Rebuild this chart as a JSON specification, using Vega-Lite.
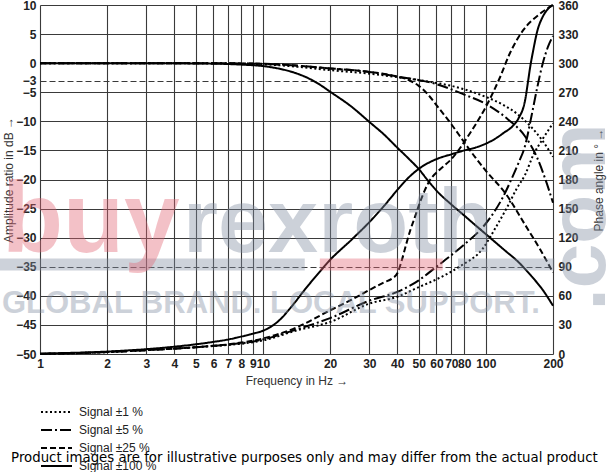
{
  "$schema": "https://vega.github.io/schema/vega-lite/v6.json",
  "width": 513,
  "height": 349,
  "autosize": {"type": "none"},
  "padding": {"left": 40, "top": 5, "right": 54, "bottom": 118},
  "background": "white",
  "config": {"view": {"stroke": null}},
  "datasets": {
    "amp": [
      {"s": "Signal ±1 %", "f": 1, "v": 0}, {"s": "Signal ±1 %", "f": 5, "v": 0}, {"s": "Signal ±1 %", "f": 10, "v": -0.2}, {"s": "Signal ±1 %", "f": 15, "v": -0.7}, {"s": "Signal ±1 %", "f": 20, "v": -1.2}, {"s": "Signal ±1 %", "f": 30, "v": -1.8}, {"s": "Signal ±1 %", "f": 40, "v": -2.4}, {"s": "Signal ±1 %", "f": 50, "v": -2.9}, {"s": "Signal ±1 %", "f": 60, "v": -3.4}, {"s": "Signal ±1 %", "f": 70, "v": -3.9}, {"s": "Signal ±1 %", "f": 80, "v": -4.5}, {"s": "Signal ±1 %", "f": 100, "v": -5.8}, {"s": "Signal ±1 %", "f": 120, "v": -7.2}, {"s": "Signal ±1 %", "f": 140, "v": -8.9}, {"s": "Signal ±1 %", "f": 160, "v": -11.0}, {"s": "Signal ±1 %", "f": 180, "v": -13.4}, {"s": "Signal ±1 %", "f": 200, "v": -16.1},
      {"s": "Signal ±5 %", "f": 1, "v": 0}, {"s": "Signal ±5 %", "f": 5, "v": 0}, {"s": "Signal ±5 %", "f": 10, "v": -0.1}, {"s": "Signal ±5 %", "f": 15, "v": -0.5}, {"s": "Signal ±5 %", "f": 20, "v": -0.9}, {"s": "Signal ±5 %", "f": 30, "v": -1.5}, {"s": "Signal ±5 %", "f": 40, "v": -2.3}, {"s": "Signal ±5 %", "f": 50, "v": -2.9}, {"s": "Signal ±5 %", "f": 60, "v": -3.6}, {"s": "Signal ±5 %", "f": 70, "v": -4.5}, {"s": "Signal ±5 %", "f": 80, "v": -5.4}, {"s": "Signal ±5 %", "f": 100, "v": -7.0}, {"s": "Signal ±5 %", "f": 125, "v": -9.6}, {"s": "Signal ±5 %", "f": 150, "v": -12.6}, {"s": "Signal ±5 %", "f": 170, "v": -16.3}, {"s": "Signal ±5 %", "f": 185, "v": -20.0}, {"s": "Signal ±5 %", "f": 200, "v": -24.0},
      {"s": "Signal ±25 %", "f": 1, "v": 0}, {"s": "Signal ±25 %", "f": 5, "v": 0}, {"s": "Signal ±25 %", "f": 10, "v": -0.1}, {"s": "Signal ±25 %", "f": 15, "v": -0.5}, {"s": "Signal ±25 %", "f": 20, "v": -0.9}, {"s": "Signal ±25 %", "f": 30, "v": -1.5}, {"s": "Signal ±25 %", "f": 40, "v": -2.3}, {"s": "Signal ±25 %", "f": 45, "v": -2.9}, {"s": "Signal ±25 %", "f": 50, "v": -3.9}, {"s": "Signal ±25 %", "f": 55, "v": -5.4}, {"s": "Signal ±25 %", "f": 60, "v": -7.2}, {"s": "Signal ±25 %", "f": 70, "v": -10.5}, {"s": "Signal ±25 %", "f": 80, "v": -13.6}, {"s": "Signal ±25 %", "f": 90, "v": -16.3}, {"s": "Signal ±25 %", "f": 100, "v": -18.5}, {"s": "Signal ±25 %", "f": 123, "v": -22.5}, {"s": "Signal ±25 %", "f": 150, "v": -27.8}, {"s": "Signal ±25 %", "f": 175, "v": -32.0}, {"s": "Signal ±25 %", "f": 200, "v": -36.0},
      {"s": "Signal ±100 %", "f": 1, "v": 0}, {"s": "Signal ±100 %", "f": 3, "v": 0}, {"s": "Signal ±100 %", "f": 5, "v": -0.05}, {"s": "Signal ±100 %", "f": 7, "v": -0.15}, {"s": "Signal ±100 %", "f": 8, "v": -0.25}, {"s": "Signal ±100 %", "f": 10, "v": -0.5}, {"s": "Signal ±100 %", "f": 12, "v": -1.0}, {"s": "Signal ±100 %", "f": 14, "v": -1.7}, {"s": "Signal ±100 %", "f": 16, "v": -2.6}, {"s": "Signal ±100 %", "f": 18, "v": -3.7}, {"s": "Signal ±100 %", "f": 20, "v": -4.9}, {"s": "Signal ±100 %", "f": 25, "v": -7.5}, {"s": "Signal ±100 %", "f": 30, "v": -10.1}, {"s": "Signal ±100 %", "f": 35, "v": -12.3}, {"s": "Signal ±100 %", "f": 40, "v": -14.5}, {"s": "Signal ±100 %", "f": 45, "v": -16.4}, {"s": "Signal ±100 %", "f": 50, "v": -18.2}, {"s": "Signal ±100 %", "f": 55, "v": -20.2}, {"s": "Signal ±100 %", "f": 60, "v": -21.9}, {"s": "Signal ±100 %", "f": 70, "v": -24.3}, {"s": "Signal ±100 %", "f": 80, "v": -26.2}, {"s": "Signal ±100 %", "f": 90, "v": -27.9}, {"s": "Signal ±100 %", "f": 100, "v": -29.4}, {"s": "Signal ±100 %", "f": 120, "v": -32.0}, {"s": "Signal ±100 %", "f": 140, "v": -34.2}, {"s": "Signal ±100 %", "f": 160, "v": -36.6}, {"s": "Signal ±100 %", "f": 180, "v": -39.0}, {"s": "Signal ±100 %", "f": 200, "v": -41.7}
    ],
    "phase": [
      {"s": "Signal ±1 %", "f": 1, "p": 0}, {"s": "Signal ±1 %", "f": 2, "p": 2}, {"s": "Signal ±1 %", "f": 3, "p": 4}, {"s": "Signal ±1 %", "f": 5, "p": 7}, {"s": "Signal ±1 %", "f": 10, "p": 14}, {"s": "Signal ±1 %", "f": 14, "p": 24}, {"s": "Signal ±1 %", "f": 20, "p": 33}, {"s": "Signal ±1 %", "f": 30, "p": 52}, {"s": "Signal ±1 %", "f": 40, "p": 59}, {"s": "Signal ±1 %", "f": 50, "p": 69}, {"s": "Signal ±1 %", "f": 60, "p": 77}, {"s": "Signal ±1 %", "f": 76, "p": 90}, {"s": "Signal ±1 %", "f": 97, "p": 109}, {"s": "Signal ±1 %", "f": 111, "p": 131}, {"s": "Signal ±1 %", "f": 125, "p": 152}, {"s": "Signal ±1 %", "f": 137, "p": 170}, {"s": "Signal ±1 %", "f": 150, "p": 185}, {"s": "Signal ±1 %", "f": 163, "p": 205}, {"s": "Signal ±1 %", "f": 180, "p": 222}, {"s": "Signal ±1 %", "f": 200, "p": 238},
      {"s": "Signal ±5 %", "f": 1, "p": 0}, {"s": "Signal ±5 %", "f": 2, "p": 2}, {"s": "Signal ±5 %", "f": 3, "p": 4}, {"s": "Signal ±5 %", "f": 5, "p": 7}, {"s": "Signal ±5 %", "f": 10, "p": 15}, {"s": "Signal ±5 %", "f": 14, "p": 25}, {"s": "Signal ±5 %", "f": 20, "p": 37}, {"s": "Signal ±5 %", "f": 30, "p": 55}, {"s": "Signal ±5 %", "f": 40, "p": 64}, {"s": "Signal ±5 %", "f": 50, "p": 76}, {"s": "Signal ±5 %", "f": 60, "p": 90}, {"s": "Signal ±5 %", "f": 70, "p": 102}, {"s": "Signal ±5 %", "f": 80, "p": 113}, {"s": "Signal ±5 %", "f": 97, "p": 131}, {"s": "Signal ±5 %", "f": 110, "p": 148}, {"s": "Signal ±5 %", "f": 120, "p": 163}, {"s": "Signal ±5 %", "f": 130, "p": 180}, {"s": "Signal ±5 %", "f": 140, "p": 197}, {"s": "Signal ±5 %", "f": 150, "p": 215}, {"s": "Signal ±5 %", "f": 160, "p": 245}, {"s": "Signal ±5 %", "f": 170, "p": 275}, {"s": "Signal ±5 %", "f": 180, "p": 300}, {"s": "Signal ±5 %", "f": 190, "p": 317}, {"s": "Signal ±5 %", "f": 200, "p": 328},
      {"s": "Signal ±25 %", "f": 1, "p": 0}, {"s": "Signal ±25 %", "f": 2, "p": 2}, {"s": "Signal ±25 %", "f": 3, "p": 4}, {"s": "Signal ±25 %", "f": 5, "p": 7}, {"s": "Signal ±25 %", "f": 7, "p": 10}, {"s": "Signal ±25 %", "f": 10, "p": 16}, {"s": "Signal ±25 %", "f": 14, "p": 27}, {"s": "Signal ±25 %", "f": 20, "p": 45}, {"s": "Signal ±25 %", "f": 25, "p": 56}, {"s": "Signal ±25 %", "f": 30, "p": 66}, {"s": "Signal ±25 %", "f": 35, "p": 74}, {"s": "Signal ±25 %", "f": 38, "p": 78}, {"s": "Signal ±25 %", "f": 40, "p": 83}, {"s": "Signal ±25 %", "f": 42, "p": 97}, {"s": "Signal ±25 %", "f": 44, "p": 114}, {"s": "Signal ±25 %", "f": 46, "p": 129}, {"s": "Signal ±25 %", "f": 48, "p": 141}, {"s": "Signal ±25 %", "f": 50, "p": 153}, {"s": "Signal ±25 %", "f": 53, "p": 168}, {"s": "Signal ±25 %", "f": 56, "p": 179}, {"s": "Signal ±25 %", "f": 62, "p": 190}, {"s": "Signal ±25 %", "f": 70, "p": 201}, {"s": "Signal ±25 %", "f": 85, "p": 228}, {"s": "Signal ±25 %", "f": 100, "p": 255}, {"s": "Signal ±25 %", "f": 116, "p": 286}, {"s": "Signal ±25 %", "f": 128, "p": 310}, {"s": "Signal ±25 %", "f": 147, "p": 334}, {"s": "Signal ±25 %", "f": 175, "p": 351}, {"s": "Signal ±25 %", "f": 200, "p": 360},
      {"s": "Signal ±100 %", "f": 1, "p": 0.5}, {"s": "Signal ±100 %", "f": 2, "p": 2.5}, {"s": "Signal ±100 %", "f": 3, "p": 5}, {"s": "Signal ±100 %", "f": 4, "p": 7.5}, {"s": "Signal ±100 %", "f": 5, "p": 10}, {"s": "Signal ±100 %", "f": 6, "p": 12.5}, {"s": "Signal ±100 %", "f": 7, "p": 15}, {"s": "Signal ±100 %", "f": 8, "p": 18}, {"s": "Signal ±100 %", "f": 9, "p": 21}, {"s": "Signal ±100 %", "f": 10, "p": 24}, {"s": "Signal ±100 %", "f": 11, "p": 29}, {"s": "Signal ±100 %", "f": 12, "p": 36}, {"s": "Signal ±100 %", "f": 13, "p": 45}, {"s": "Signal ±100 %", "f": 14, "p": 54}, {"s": "Signal ±100 %", "f": 15, "p": 63}, {"s": "Signal ±100 %", "f": 16, "p": 71}, {"s": "Signal ±100 %", "f": 18, "p": 85}, {"s": "Signal ±100 %", "f": 20, "p": 97}, {"s": "Signal ±100 %", "f": 25, "p": 118}, {"s": "Signal ±100 %", "f": 30, "p": 136}, {"s": "Signal ±100 %", "f": 35, "p": 153}, {"s": "Signal ±100 %", "f": 40, "p": 169}, {"s": "Signal ±100 %", "f": 45, "p": 182}, {"s": "Signal ±100 %", "f": 50, "p": 191}, {"s": "Signal ±100 %", "f": 60, "p": 201}, {"s": "Signal ±100 %", "f": 70, "p": 206}, {"s": "Signal ±100 %", "f": 80, "p": 210}, {"s": "Signal ±100 %", "f": 90, "p": 213}, {"s": "Signal ±100 %", "f": 100, "p": 217}, {"s": "Signal ±100 %", "f": 110, "p": 222}, {"s": "Signal ±100 %", "f": 120, "p": 228}, {"s": "Signal ±100 %", "f": 133, "p": 236}, {"s": "Signal ±100 %", "f": 140, "p": 243}, {"s": "Signal ±100 %", "f": 150, "p": 262}, {"s": "Signal ±100 %", "f": 155, "p": 283}, {"s": "Signal ±100 %", "f": 158, "p": 296}, {"s": "Signal ±100 %", "f": 163, "p": 313}, {"s": "Signal ±100 %", "f": 170, "p": 333}, {"s": "Signal ±100 %", "f": 180, "p": 348}, {"s": "Signal ±100 %", "f": 190, "p": 356}, {"s": "Signal ±100 %", "f": 200, "p": 360}
    ]
  },
  "layer": [
    {
      "data": {"name": "amp"},
      "mark": {"type": "line", "color": "black", "strokeWidth": 2, "interpolate": "monotone"},
      "encoding": {
        "x": {"field": "f", "type": "quantitative", "scale": {"type": "log", "domain": [1, 200], "nice": false},
          "axis": {"values": [1,2,3,4,5,6,7,8,9,10,20,30,40,50,60,70,80,100,200], "labelExpr": "datum.value", "title": "Frequency in Hz →", "grid": true, "gridColor": "#3a3a3a", "gridWidth": 1.1, "ticks": false, "domain": false, "labelOverlap": false, "labelFlush": false, "labelBound": false, "labelPadding": 4, "labelFont": "Liberation Sans", "labelFontWeight": "bold", "labelFontSize": 12, "labelColor": "#222", "titleFont": "Liberation Sans", "titleFontWeight": "normal", "titleFontSize": 12, "titleColor": "#333", "titlePadding": 6}},
        "y": {"field": "v", "type": "quantitative", "scale": {"domain": [-50, 10], "nice": false, "zero": false},
          "axis": {"values": [10,5,0,-3,-5,-10,-15,-20,-25,-30,-35,-40,-45,-50], "title": "Amplitude ratio in dB →", "grid": true, "gridColor": "#3a3a3a", "gridWidth": 1.1, "gridDash": {"condition": {"test": "datum.value === -3 || datum.value === -35", "value": [6, 3]}, "value": []}, "ticks": false, "domain": false, "labelOverlap": false, "labelPadding": 4, "labelFont": "Liberation Sans", "labelFontWeight": "bold", "labelFontSize": 12, "labelColor": "#222", "titleFont": "Liberation Sans", "titleFontWeight": "normal", "titleFontSize": 12, "titleColor": "#333", "titlePadding": 0}},
        "strokeDash": {"field": "s", "type": "nominal",
          "scale": {"domain": ["Signal ±1 %", "Signal ±5 %", "Signal ±25 %", "Signal ±100 %"], "range": [[2, 2.5], [11, 3, 2, 3], [6, 3], [1, 0]]},
          "legend": {"title": null, "orient": "none", "legendX": 0, "legendY": 400, "symbolType": "stroke", "symbolSize": 961, "symbolStrokeWidth": 2, "symbolStrokeColor": "black", "clipHeight": 14, "rowPadding": 4, "labelFont": "Liberation Sans", "labelFontSize": 12, "labelColor": "#222", "labelOffset": 6}}
      }
    },
    {
      "data": {"name": "phase"},
      "mark": {"type": "line", "color": "black", "strokeWidth": 2, "interpolate": "monotone"},
      "encoding": {
        "x": {"field": "f", "type": "quantitative", "scale": {"type": "log", "domain": [1, 200], "nice": false}},
        "y": {"field": "p", "type": "quantitative", "scale": {"domain": [0, 360], "nice": false},
          "axis": {"orient": "right", "values": [0,30,60,90,120,150,180,210,240,270,300,330,360], "title": "Phase angle in ° →", "titleAngle": 270, "grid": false, "ticks": false, "domain": false, "labelOverlap": false, "labelPadding": 5, "labelFont": "Liberation Sans", "labelFontWeight": "bold", "labelFontSize": 12, "labelColor": "#222", "titleFont": "Liberation Sans", "titleFontWeight": "normal", "titleFontSize": 12, "titleColor": "#333", "titlePadding": 27}},
        "strokeDash": {"field": "s", "type": "nominal", "legend": null}
      }
    },
    {
      "data": {"values": [{}]},
      "mark": {"type": "rule", "strokeWidth": 12, "color": "#828ea2", "opacity": 0.4},
      "encoding": {"x": {"datum": 0.66, "type": "quantitative", "scale": {"type": "log", "domain": [1, 200], "nice": false}}, "x2": {"datum": 15.4}, "y": {"datum": -34.6, "type": "quantitative", "scale": {"domain": [-50, 10], "nice": false}, "axis": null}}
    },
    {
      "data": {"values": [{}]},
      "mark": {"type": "rule", "strokeWidth": 12, "color": "#e36675", "opacity": 0.4},
      "encoding": {"x": {"datum": 18, "type": "quantitative", "scale": {"type": "log", "domain": [1, 200], "nice": false}}, "x2": {"datum": 64}, "y": {"datum": -34.6, "type": "quantitative", "scale": {"domain": [-50, 10], "nice": false}, "axis": null}}
    },
    {
      "data": {"values": [{}]},
      "mark": {"type": "rule", "strokeWidth": 12, "color": "#828ea2", "opacity": 0.4},
      "encoding": {"x": {"datum": 75, "type": "quantitative", "scale": {"type": "log", "domain": [1, 200], "nice": false}}, "x2": {"datum": 203}, "y": {"datum": -34.6, "type": "quantitative", "scale": {"domain": [-50, 10], "nice": false}, "axis": null}}
    },
    {
      "data": {"values": [{}]},
      "mark": {"type": "text", "text": "buy", "font": "Liberation Sans", "fontWeight": "bold", "fontSize": 100, "align": "left", "baseline": "alphabetic", "color": "#e36675", "opacity": 0.4},
      "encoding": {"x": {"datum": 0.675, "type": "quantitative", "scale": {"type": "log", "domain": [1, 200], "nice": false}}, "y": {"datum": -32.4, "type": "quantitative", "scale": {"domain": [-50, 10], "nice": false}, "axis": null}}
    },
    {
      "data": {"values": [{}]},
      "mark": {"type": "text", "text": "rexroth", "font": "Liberation Sans", "fontWeight": "bold", "fontSize": 90, "align": "left", "baseline": "alphabetic", "color": "#828ea2", "opacity": 0.4},
      "encoding": {"x": {"datum": 4.38, "type": "quantitative", "scale": {"type": "log", "domain": [1, 200], "nice": false}}, "y": {"datum": -32.4, "type": "quantitative", "scale": {"domain": [-50, 10], "nice": false}, "axis": null}}
    },
    {
      "data": {"values": [{}]},
      "mark": {"type": "text", "text": "GLOBAL BRAND. LOCAL SUPPORT.", "font": "Liberation Sans", "fontWeight": "bold", "fontSize": 31, "align": "left", "baseline": "alphabetic", "color": "#828ea2", "opacity": 0.4},
      "encoding": {"x": {"datum": 0.675, "type": "quantitative", "scale": {"type": "log", "domain": [1, 200], "nice": false}}, "y": {"datum": -43.0, "type": "quantitative", "scale": {"domain": [-50, 10], "nice": false}, "axis": null}}
    },
    {
      "data": {"values": [{}]},
      "mark": {"type": "text", "text": ".com", "font": "Liberation Sans", "fontWeight": "bold", "fontSize": 80, "angle": 270, "align": "left", "baseline": "alphabetic", "color": "#828ea2", "opacity": 0.4},
      "encoding": {"x": {"datum": 342, "type": "quantitative", "scale": {"type": "log", "domain": [1, 200], "nice": false}}, "y": {"datum": -42.5, "type": "quantitative", "scale": {"domain": [-50, 10], "nice": false}, "axis": null}}
    },
    {
      "data": {"values": [{}]},
      "mark": {"type": "text", "text": "Product images are for illustrative purposes only and may differ from the actual product", "font": "DejaVu Sans", "fontSize": 13.3, "align": "center", "baseline": "middle", "color": "black"},
      "encoding": {"x": {"datum": 15.35, "type": "quantitative", "scale": {"type": "log", "domain": [1, 200], "nice": false}}, "y": {"datum": -67.9, "type": "quantitative", "scale": {"domain": [-50, 10], "nice": false}, "axis": null}}
    }
  ],
  "resolve": {"scale": {"y": "independent"}}
}
